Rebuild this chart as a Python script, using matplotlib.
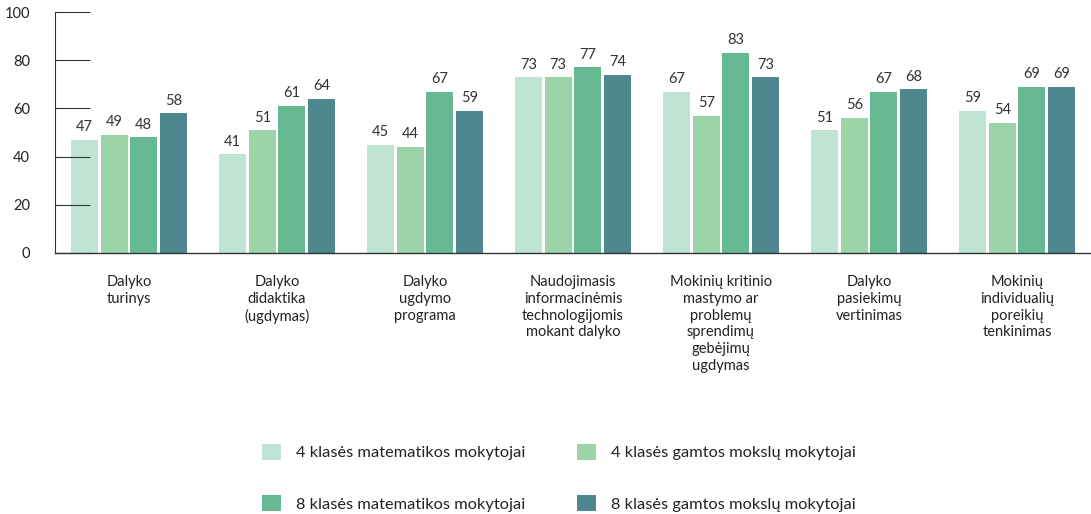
import numpy as np
import matplotlib.pyplot as plt

plt.rcParams['font.family'] = ['Lato', 'DejaVu Sans']

categories = ['Dalyko\nturinys', 'Dalyko\ndidaktika\n(ugdymas)', 'Dalyko\nugdymo\nprograma',
              'Naudojimasis\ninformacinėmis\ntechnologijomis\nmokant dalyko',
              'Mokinių kritinio\nmastymo ar\nproblemų\nsprendimų\ngebėjimų\nugdymas',
              'Dalyko\npasiekimų\nvertinimas',
              'Mokinių\nindividualių\nporeikių\ntenkinimas']
series_names = ['4 klasės matematikos mokytojai', '4 klasės gamtos mokslų mokytojai',
                '8 klasės matematikos mokytojai', '8 klasės gamtos mokslų mokytojai']
math4 = [47, 41, 45, 73, 67, 51, 59]
sci4 = [49, 51, 44, 73, 57, 56, 54]
math8 = [48, 61, 67, 77, 83, 67, 69]
sci8 = [58, 64, 59, 74, 73, 68, 69]
colors = ['#c0e4d4', '#9cd3a9', '#66b990', '#4f878f']

fig = plt.figure(figsize=(10.91, 5.14), dpi=100)
ax = fig.add_axes([55/1091, 261/514, 1036/1091, 241/514])

x = np.arange(len(categories))
pitch = 0.2
width = 0.183
handles = []
for i, vals in enumerate([math4, sci4, math8, sci8]):
    pos = x + (i - 1.5) * pitch
    b = ax.bar(pos, vals, width, color=colors[i], label=series_names[i], zorder=1)
    handles.append(b)
    for p, v in zip(pos, vals):
        ax.annotate(str(v), (p, v), xytext=(0, 4), textcoords='offset points',
                    ha='center', va='bottom', fontsize=10.5, color='#333333')

ax.set_xlim(-0.5, 6.5)
ax.set_ylim(0, 100)
ax.set_yticks([0, 20, 40, 60, 80, 100])
ax.tick_params(axis='y', direction='in', length=25, width=0.8, color='#333333',
               pad=0, labelsize=10.5, labelcolor='#222222')
for lab in ax.get_yticklabels():
    lab.set_x(-0.024)
ax.set_xticks(x)
ax.set_xticklabels(categories, fontsize=10.5, color='#222222', linespacing=1.25)
ax.tick_params(axis='x', length=0, pad=16)
for s in ['top', 'right']:
    ax.spines[s].set_visible(False)
ax.spines['left'].set_color('#333333')
ax.spines['bottom'].set_color('#333333')
ax.spines['left'].set_linewidth(0.8)
ax.spines['bottom'].set_linewidth(1.0)

# legend order: row 1 = 4 klasės, row 2 = 8 klasės
order = [0, 2, 1, 3]
fig.legend([handles[i] for i in order], [series_names[i] for i in order],
           loc='upper left', bbox_to_anchor=(247/1091, 1 - 429/514),
           ncol=2, frameon=False, fontsize=11.8, handlelength=1.16, handleheight=1.16,
           handletextpad=0.9, columnspacing=3.2, labelspacing=2.1, labelcolor='#222222')

fig.savefig('out.png', dpi=100)
